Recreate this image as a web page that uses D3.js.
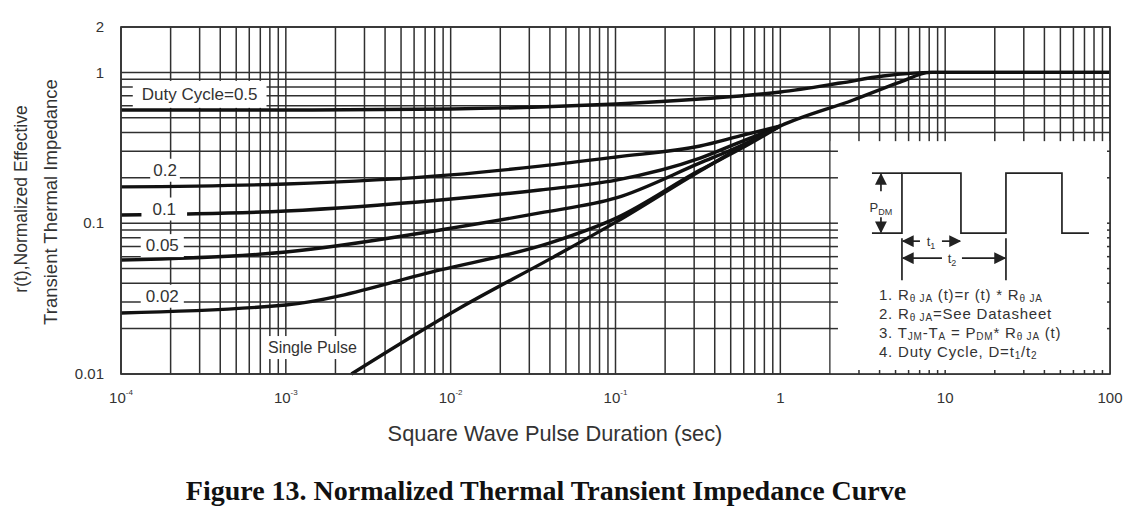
<!DOCTYPE html>
<html>
<head>
<meta charset="utf-8">
<script src="https://cdn.jsdelivr.net/npm/d3@7"></script>
<style>
  body { margin: 0; background: #fff; }
  text { font-family: "Liberation Sans", Arial, sans-serif; fill: #333; }
</style>
</head>
<body>
<svg id="chart" width="1129" height="518"></svg>
<script>
// curves: [pulse duration (s), r(t)]
const duty05 = [[1e-4,0.563],[1e-3,0.563],[1e-2,0.572],[0.0348,0.589],[0.101,0.617],[0.326,0.666],[1.0,0.741],[2.31,0.85],[4.2,0.946],[8.45,1.0],[100,1.0]];
const duty02 = [[1e-4,0.174],[1e-3,0.182],[1e-2,0.209],[0.0348,0.239],[0.101,0.275],[0.326,0.325],[0.57,0.379],[1.0,0.441]];
const duty01 = [[1e-4,0.1133],[1e-3,0.1205],[0.00863,0.1426],[0.0348,0.166],[0.101,0.193],[0.326,0.27],[0.57,0.345],[1.0,0.441]];
const duty005 = [[1e-4,0.057],[1e-3,0.0644],[0.00863,0.0902],[0.0348,0.117],[0.101,0.147],[0.326,0.251],[0.57,0.325],[1.0,0.441]];
const duty002 = [[1e-4,0.0254],[1e-3,0.0287],[0.00863,0.049],[0.0401,0.074],[0.101,0.108],[0.326,0.225],[0.57,0.31],[1.0,0.441]];
const singlePulse = [[2.5e-3,0.01],[0.01137,0.0274],[0.0401,0.058],[0.101,0.102],[0.326,0.222],[1.0,0.441],[2.77,0.656],[5.33,0.863],[8.11,1.0],[100,1.0]];

const xTicks = [1e-4,1e-3,1e-2,1e-1,1,10,100];
const xTickBase = ["10","10","10","10","1","10","100"];
const xTickExp = ["-4","-3","-2","-1","","",""];
const yTicks = [0.01,0.1,1,2];
const yTickLabels = ["0.01","0.1","1","2"];

const curveNames = ["Duty Cycle=0.5","0.2","0.1","0.05","0.02","Single Pulse"];
const curveLabelT = [3.0e-4,1.85e-4,1.83e-4,1.78e-4,1.78e-4,1.45e-3];
const curveLabelZ = [0.72,0.226,0.125,0.0715,0.033,0.015];

const margin = {top: 27, left: 121, bottom: 144, right: 19},
    width = 1129 - margin.left - margin.right,
    height = 518 - margin.top - margin.bottom;

const svg = d3.select("#chart");

var x = d3.scaleLog().domain([1e-4, 100]).range([margin.left, margin.left + width]);
var y = d3.scaleLog().domain([0.01, 2]).range([margin.top + height, margin.top]);

// grid
var grid = svg.append("g").attr("stroke", "#303030").attr("stroke-width", 1.5);
grid.selectAll(".vg").data(x.ticks()).join("line")
  .attr("x1", d => x(d)).attr("x2", d => x(d))
  .attr("y1", y(2)).attr("y2", y(0.01));
grid.selectAll(".hg").data(y.ticks()).join("line")
  .attr("x1", x(1e-4)).attr("x2", x(100))
  .attr("y1", d => y(d)).attr("y2", d => y(d));

// curves
var line = d3.line()
  .x(d => x(d[0]))
  .y(d => y(d[1]))
  .curve(d3.curveMonotoneX);

svg.append("g").selectAll("path")
  .data([duty05, duty02, duty01, duty005, duty002, singlePulse])
  .join("path")
  .attr("d", line)
  .attr("fill", "none")
  .attr("stroke", "#111")
  .attr("stroke-width", 3.4);

// curve labels on white patches
var labelPad = [[9,4],[3,2],[11,2],[5,2],[5,2],[4,3]];
var lab = svg.append("g");
curveNames.forEach(function(name, i) {
  var g = lab.append("g");
  var t = g.append("text")
    .attr("x", x(curveLabelT[i]))
    .attr("y", y(curveLabelZ[i]))
    .attr("dy", "0.35em")
    .attr("text-anchor", "middle")
    .style("font-size", i == 5 ? "16px" : "17px")
    .text(name);
  var bb = t.node().getBBox();
  g.insert("rect", "text")
    .attr("x", bb.x - labelPad[i][0]).attr("y", bb.y - labelPad[i][1])
    .attr("width", bb.width + 2 * labelPad[i][0])
    .attr("height", bb.height + 2 * labelPad[i][1])
    .attr("fill", "#fff");
});

// inset box
var ix0 = x(2), ix1 = x(100), iy0 = y(0.35), iy1 = y(0.01);
var inset = svg.append("g");
inset.append("rect")
  .attr("x", ix0 + 0.8).attr("y", iy0)
  .attr("width", ix1 - ix0 - 0.8).attr("height", iy1 - iy0)
  .attr("fill", "#fff");
var stubs = inset.append("g").attr("stroke", "#303030").attr("stroke-width", 1.5);
stubs.selectAll(".l").data(y.ticks().filter(d => y(d) > iy0 && d > 0.01)).join("line")
  .attr("x1", ix0).attr("x2", ix0 + 8)
  .attr("y1", d => y(d)).attr("y2", d => y(d));
stubs.selectAll(".r").data(y.ticks().filter(d => y(d) > iy0 && d > 0.01)).join("line")
  .attr("x1", ix1 - 3).attr("x2", ix1)
  .attr("y1", d => y(d)).attr("y2", d => y(d));
stubs.selectAll(".b").data(x.ticks().filter(d => d > 2 && d < 100)).join("line")
  .attr("x1", d => x(d)).attr("x2", d => x(d))
  .attr("y1", iy1 - 4).attr("y2", iy1);

// square wave sketch
var defs = svg.append("defs");
defs.append("marker").attr("id", "ah")
  .attr("viewBox", "0 0 10 10").attr("refX", 9).attr("refY", 5)
  .attr("markerWidth", 7).attr("markerHeight", 7).attr("orient", "auto-start-reverse")
  .append("path").attr("d", "M0,0L10,5L0,10z").attr("fill", "#222");

var sw = inset.append("g").attr("stroke", "#222").attr("stroke-width", 1.7).attr("fill", "none");
var lo = iy0 + 92, hi = iy0 + 32;
sw.append("path").attr("d",
  "M" + (ix0 + 42) + "," + lo + "H" + (ix0 + 72) + "V" + hi + "H" + (ix0 + 131) + "V" + lo +
  "H" + (ix0 + 176) + "V" + hi + "H" + (ix0 + 232) + "V" + lo + "H" + (ix0 + 259));
sw.append("line").attr("x1", ix0 + 42).attr("x2", ix0 + 72).attr("y1", hi).attr("y2", hi);
sw.append("line").attr("x1", ix0 + 51).attr("x2", ix0 + 51).attr("y1", hi + 18).attr("y2", hi + 1)
  .attr("marker-end", "url(#ah)");
sw.append("line").attr("x1", ix0 + 51).attr("x2", ix0 + 51).attr("y1", lo - 16).attr("y2", lo - 1)
  .attr("marker-end", "url(#ah)");
sw.append("line").attr("x1", ix0 + 72).attr("x2", ix0 + 72).attr("y1", lo + 5).attr("y2", lo + 47);
sw.append("line").attr("x1", ix0 + 176).attr("x2", ix0 + 176).attr("y1", lo + 5).attr("y2", lo + 47);
// t1 / t2 arrows
sw.append("line").attr("x1", ix0 + 90).attr("x2", ix0 + 73).attr("y1", lo + 8).attr("y2", lo + 8).attr("marker-end", "url(#ah)");
sw.append("line").attr("x1", ix0 + 112).attr("x2", ix0 + 130).attr("y1", lo + 8).attr("y2", lo + 8).attr("marker-end", "url(#ah)");
sw.append("line").attr("x1", ix0 + 112).attr("x2", ix0 + 73).attr("y1", lo + 25).attr("y2", lo + 25).attr("marker-end", "url(#ah)");
sw.append("line").attr("x1", ix0 + 132).attr("x2", ix0 + 175).attr("y1", lo + 25).attr("y2", lo + 25).attr("marker-end", "url(#ah)");

function sub(t, main, s) {
  t.append("tspan").text(main);
  t.append("tspan").attr("font-size", "9px").attr("dy", 3).text(s);
}
var pdm = inset.append("text").attr("x", ix0 + 51).attr("y", lo - 26).attr("dy", "0.35em")
  .attr("text-anchor", "middle").style("font-size", "13px");
sub(pdm, "P", "DM");
var t1 = inset.append("text").attr("x", ix0 + 101).attr("y", lo + 8).attr("dy", "0.35em")
  .attr("text-anchor", "middle").style("font-size", "13px");
sub(t1, "t", "1");
var t2 = inset.append("text").attr("x", ix0 + 122).attr("y", lo + 25).attr("dy", "0.35em")
  .attr("text-anchor", "middle").style("font-size", "13px");
sub(t2, "t", "2");

var notes = inset.append("g").style("font-size", "15px").style("letter-spacing", "0.8px");
function note(yOff, parts) {
  var t = notes.append("text").attr("x", ix0 + 49).attr("y", iy0 + yOff);
  parts.forEach(function(p, k) {
    var s = t.append("tspan").text(p);
    if (k % 2 == 1) s.attr("font-size", "10px").attr("dy", 2);
    else if (k > 0) s.attr("dy", -2);
  });
}
note(159, ["1. R", "θ JA", " (t)=r (t) * R", "θ JA"]);
note(178, ["2. R", "θ JA", "=See Datasheet"]);
note(197, ["3. T", "JM", "-T", "A", " = P", "DM", "* R", "θ JA", " (t)"]);
note(216, ["4. Duty Cycle, D=t", "1", "/t", "2"]);

// frame
svg.append("rect")
  .attr("x", x(1e-4)).attr("y", y(2))
  .attr("width", x(100) - x(1e-4)).attr("height", y(0.01) - y(2))
  .attr("fill", "none").attr("stroke", "#333").attr("stroke-width", 1.7);

// tick labels
var xl = svg.append("g").selectAll("text").data(xTicks).join("text")
  .attr("x", d => x(d)).attr("y", 403)
  .attr("text-anchor", "middle")
  .style("font-size", "15px");
xl.append("tspan").text((d, i) => xTickBase[i]);
xl.append("tspan").attr("font-size", "8px").attr("dy", -8).text((d, i) => xTickExp[i]);

svg.append("g").selectAll("text").data(yTicks).join("text")
  .attr("x", 104).attr("y", d => y(d))
  .attr("dy", "0.35em")
  .attr("text-anchor", "end")
  .style("font-size", "15px")
  .text((d, i) => yTickLabels[i]);

// axis titles
svg.append("text")
  .attr("x", 555).attr("y", 441)
  .attr("text-anchor", "middle")
  .style("font-size", "21.8px")
  .text("Square Wave Pulse Duration (sec)");

svg.append("text")
  .attr("transform", "translate(27,199) rotate(-90)")
  .attr("text-anchor", "middle")
  .style("font-size", "17.5px")
  .text("r(t),Normalized Effective");
svg.append("text")
  .attr("transform", "translate(57,202) rotate(-90)")
  .attr("text-anchor", "middle")
  .style("font-size", "18.5px")
  .text("Transient Thermal Impedance");

svg.append("text")
  .attr("x", 546).attr("y", 500)
  .attr("text-anchor", "middle")
  .style("font-family", "'Liberation Serif', 'Times New Roman', serif")
  .style("font-weight", "bold")
  .style("font-size", "28px")
  .style("fill", "#111")
  .text("Figure 13. Normalized Thermal Transient Impedance Curve");
</script>
</body>
</html>
